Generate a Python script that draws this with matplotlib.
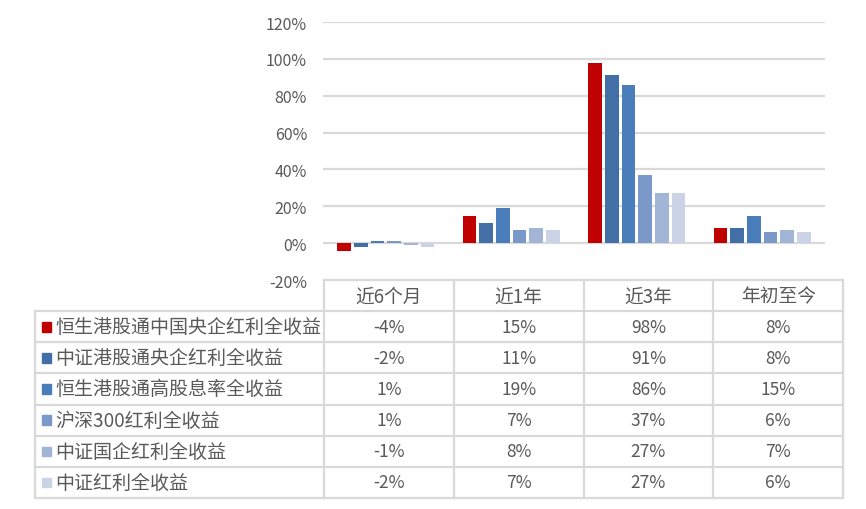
import numpy as np
import matplotlib
matplotlib.use('Agg')
import matplotlib.pyplot as plt

plt.rcParams['font.family'] = ['Noto Sans CJK SC', 'DejaVu Sans']

periods = ['近6个月', '近1年', '近3年', '年初至今']
series_names = ['恒生港股通中国央企红利全收益', '中证港股通央企红利全收益', '恒生港股通高股息率全收益',
                '沪深300红利全收益', '中证国企红利全收益', '中证红利全收益']
# returns in %, one list per series (same order as periods)
hs_soe = [-4, 15, 98, 8]
csi_hk_soe = [-2, 11, 91, 8]
hs_high_div = [1, 19, 86, 15]
hs300_div = [1, 7, 37, 6]
csi_soe_div = [-1, 8, 27, 7]
csi_div = [-2, 7, 27, 6]
colors = ['#C00000', '#416FA6', '#4A7EBB', '#7A98C8', '#A3B5D6', '#CAD4E6']

all_series = [hs_soe, csi_hk_soe, hs_high_div, hs300_div, csi_soe_div, csi_div]

W, H = 866, 510
fig = plt.figure(figsize=(W / 100, H / 100), dpi=100)

# chart area in pixels
x0, x1 = 323, 825
y_top, y_bot = 23, 281
ax = fig.add_axes([x0 / W, 1 - y_bot / H, (x1 - x0) / W, (y_bot - y_top) / H])

grid_c = '#D9D9D9'
text_c = '#595959'

x = np.arange(len(periods))
slot = 0.133
bw = 0.109
for i, vals in enumerate(all_series):
    ax.bar(x + (i - 2.5) * slot, vals, width=bw, color=colors[i], zorder=3)

ax.set_xlim(-0.5, len(periods) - 0.5)
ax.set_ylim(-20, 120)
ax.set_yticks(np.arange(-20, 121, 20))
ax.set_yticklabels([f'{v}%' for v in range(-20, 121, 20)], color=text_c, fontsize=11.5)
ax.tick_params(axis='y', length=0, pad=11.5)
ax.set_xticks([])
for s in ax.spines.values():
    s.set_visible(False)
for v in range(0, 121, 20):
    ax.axhline(v, color=grid_c, lw=1.6, zorder=1)

# data table under the chart
t_left, t_x0, t_x1, t_bot = 35, 324, 843, 499
col_w = (t_x1 - t_x0) / len(periods)
tax = fig.add_axes([t_left / W, 1 - t_bot / H, (t_x1 - t_left) / W, (t_bot - y_bot) / H])
left_u = -0.5 - (t_x0 - t_left) / col_w
n_rows = len(series_names) + 1
tax.set_xlim(left_u, len(periods) - 0.5)
tax.set_ylim(n_rows, 0)
tax.axis('off')

lw = 1.6
# horizontal lines
tax.plot([-0.5, len(periods) - 0.5], [0, 0], color=grid_c, lw=lw, clip_on=False)
for r in range(1, n_rows + 1):
    tax.plot([left_u, len(periods) - 0.5], [r, r], color=grid_c, lw=lw, clip_on=False)
# vertical lines
tax.plot([left_u, left_u], [1, n_rows], color=grid_c, lw=lw, clip_on=False)
for c in range(len(periods) + 1):
    tax.plot([c - 0.5, c - 0.5], [0, n_rows], color=grid_c, lw=lw, clip_on=False)

for c, p in enumerate(periods):
    tax.text(c, 0.52, p, ha='center', va='center', fontsize=13.5, color=text_c)

px = 1 / col_w
for r, (name, vals) in enumerate(zip(series_names, all_series)):
    yc = r + 1.5
    tax.add_patch(plt.Rectangle((left_u + 7 * px, yc - 0.15), 9.5 * px, 0.31,
                                color=colors[r], clip_on=False))
    tax.text(left_u + 20 * px, yc, name, ha='left', va='center', fontsize=13.7, color=text_c)
    for c, v in enumerate(vals):
        tax.text(c, yc, f'{v}%', ha='center', va='center', fontsize=12.5, color=text_c)

fig.savefig('out.png', dpi=100)
